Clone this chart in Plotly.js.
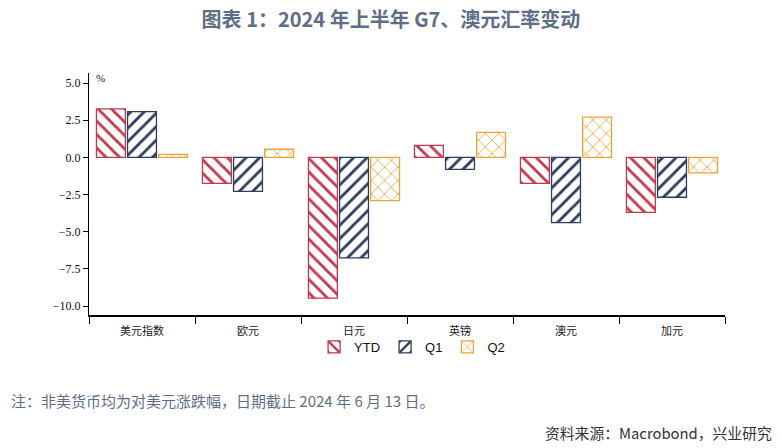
<!DOCTYPE html>
<html><head><meta charset="utf-8">
<script src="https://cdn.plot.ly/plotly-3.0.1.min.js"></script>
<style>body{margin:0;background:#fff}#chart{width:782px;height:448px}</style>
</head><body><div id="chart"></div>
<script>
const categories = ["美元指数", "欧元", "日元", "英镑", "澳元", "加元"];
const ytd = [3.26, -1.74, -9.47, 0.81, -1.74, -3.70];
const q1 = [3.08, -2.28, -6.76, -0.80, -4.38, -2.68];
const q2 = [0.20, 0.55, -2.90, 1.68, 2.71, -1.04];
const yTicks = [5.0, 2.5, 0.0, -2.5, -5.0, -7.5, -10.0];

const RED = "#C03A4C", NAVY = "#2E3D5E", ORANGE = "#E9A43C";
function bar(name, y, color, shape, sol) {
  return {
    type: "bar", name: name, x: categories, y: y,
    marker: {
      color: "white",
      line: {color: color, width: 1.3},
      pattern: {shape: shape, fgcolor: color, bgcolor: "white", fillmode: "replace", size: 9.5, solidity: sol}
    },
    hoverinfo: "skip"
  };
}
const data = [
  bar("YTD", ytd, RED, "\\", 0.3),
  bar("Q1", q1, NAVY, "/", 0.3),
  bar("Q2", q2, ORANGE, "x", 0.17)
];
// plot area: x 89..725 px, y 73..315 px
const px = v => (v - 89) / 636;
const py = v => (315 - v) / 242;
const layout = {
  width: 782, height: 448,
  margin: {l: 89, r: 57, t: 73, b: 133},
  paper_bgcolor: "white", plot_bgcolor: "white",
  barmode: "group", bargap: 0.12, bargroupgap: 0.07,
  showlegend: true,
  legend: {orientation: "h", x: 0.508, xanchor: "center", y: py(332), yanchor: "top",
    bgcolor: "rgba(0,0,0,0)",
    font: {family: "Liberation Sans Narrow, Liberation Sans, sans-serif", size: 13, color: "#111"},
    itemwidth: 30, tracegroupgap: 0, itemclick: false},
  title: {text: "图表 1：2024 年上半年 G7、澳元汇率变动", x: 0.5, xanchor: "center", y: 0.955, yanchor: "middle",
    font: {family: "Noto Sans CJK SC", size: 20, color: "#5E6E87", weight: "bold"}},
  xaxis: {
    type: "category", tickson: "boundaries", ticks: "outside", ticklen: 7, tickcolor: "#000",
    showline: true, linecolor: "#000", linewidth: 1.5, showgrid: false, zeroline: false,
    ticklabelstandoff: 5,
    tickfont: {family: "Noto Sans CJK SC", size: 11, color: "#222"}, fixedrange: true
  },
  yaxis: {
    range: [-10.6, 5.68], tickvals: yTicks, tickformat: ".1f", ticks: "outside", ticklen: 5, tickcolor: "#000",
    showline: true, linecolor: "#000", linewidth: 1, showgrid: false, zeroline: false,
    tickfont: {family: "Liberation Serif, serif", size: 12, color: "#111"}, fixedrange: true
  },
  annotations: [
    {text: "%", xref: "paper", yref: "paper", x: px(94), y: py(78), xanchor: "left", yanchor: "middle", showarrow: false,
      font: {family: "Liberation Serif, serif", size: 11, color: "#111"}},
    {text: "注：非美货币均为对美元涨跌幅，日期截止 2024 年 6 月 13 日。", xref: "paper", yref: "paper",
      x: px(9), y: py(400), xanchor: "left", yanchor: "middle", showarrow: false,
      font: {family: "Noto Sans CJK SC", size: 15, color: "#5E6E87"}},
    {text: "资料来源：Macrobond，兴业研究", xref: "paper", yref: "paper",
      x: px(774), y: py(432), xanchor: "right", yanchor: "middle", showarrow: false,
      font: {family: "Noto Sans CJK SC", size: 14.8, color: "#333"}}
  ]
};
Plotly.newPlot("chart", data, layout, {displayModeBar: false, staticPlot: true});
</script></body></html>
